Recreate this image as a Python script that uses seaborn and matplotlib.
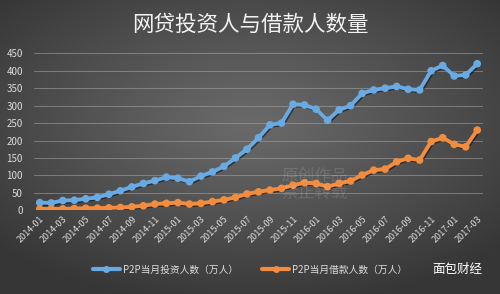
import numpy as np
import pandas as pd
import matplotlib
matplotlib.use("Agg")
import matplotlib.pyplot as plt
import matplotlib.patheffects as pe
from matplotlib.lines import Line2D
import seaborn as sns

months = [f"{y}-{m:02d}" for y in (2014, 2015, 2016, 2017) for m in range(1, 13)][:39]
investors = [22, 21, 28, 29, 33, 37, 46, 56, 67, 77, 85, 95, 92, 82, 98, 110, 126, 150, 175, 208,
             245, 250, 304, 302, 290, 258, 288, 300, 335, 345, 350, 355, 347, 345, 400, 415, 385, 388, 420]
borrowers = [4, 4, 4, 5, 6, 6, 7, 8, 10, 13, 18, 20, 22, 18, 20, 25, 30, 37, 47, 53,
             58, 63, 72, 79, 77, 68, 77, 84, 101, 115, 118, 139, 149, 144, 197, 208, 189, 182, 230]
series_names = ["P2P当月投资人数（万人）", "P2P当月借款人数（万人）"]
yticks = [0, 50, 100, 150, 200, 250, 300, 350, 400, 450]
title = "网贷投资人与借款人数量"

df = pd.DataFrame({
    "idx": list(range(len(months))) * 2,
    "value": investors + borrowers,
    "series": [series_names[0]] * len(months) + [series_names[1]] * len(months),
})

sns.set_theme(style="dark")
plt.rcParams["font.family"] = ["Noto Sans CJK SC", "DejaVu Sans"]

fig = plt.figure(figsize=(5.0, 2.94), dpi=100)

# background radial gradient
bg = fig.add_axes([0, 0, 1, 1], zorder=-10)
yy, xx = np.mgrid[0:1:294j, 0:1:500j]
r = np.sqrt(((xx - 0.5) * 1.4) ** 2 + ((yy - 0.42) * 1.5) ** 2)
r = np.clip(r / 0.95, 0, 1) ** 1.1
c_center = np.array([0x6a, 0x6a, 0x6a]) / 255
c_edge = np.array([0x36, 0x36, 0x36]) / 255
img = c_center[None, None, :] * (1 - r[..., None]) + c_edge[None, None, :] * r[..., None]
bg.imshow(img, aspect="auto", extent=[0, 1, 0, 1], origin="upper")
bg.set_axis_off()

ax = fig.add_axes([0.068, 0.2847, 0.898, 0.534])
ax.set_facecolor("none")
palette = {series_names[0]: "#6aaae2", series_names[1]: "#f28c3e"}
sns.lineplot(data=df, x="idx", y="value", hue="series", palette=palette, marker="o",
             markersize=5.5, linewidth=2.8, markeredgewidth=0, ax=ax, legend=False, zorder=5)
for ln in ax.lines:
    ln.set_path_effects([pe.SimpleLineShadow(offset=(0.8, -0.8), alpha=0.5, shadow_color="black"), pe.Normal()])

ax.set_xlim(-0.5, len(months) - 0.5)
ax.set_ylim(0, 450)
ax.set_yticks(yticks)
ax.set_yticklabels([str(v) for v in yticks], color="#dcdcdc", fontsize=7)
ax.set_xticks(range(0, len(months), 2))
ax.set_xticklabels(months[::2], rotation=45, ha="right", rotation_mode="anchor",
                   color="#dcdcdc", fontsize=6.5)
ax.tick_params(axis="both", length=0, pad=3)
ax.tick_params(axis="y", pad=8)
ax.set_xlabel("")
ax.set_ylabel("")
for s in ax.spines.values():
    s.set_visible(False)
ax.grid(axis="y", color="#a8a8a8", linewidth=0.7, alpha=0.55)
ax.grid(axis="x", visible=False)

# watermark
fig.text(0.63, 0.37, "原创作品\n禁止转载", color="white", alpha=0.13, fontsize=12,
         ha="center", va="center", linespacing=1.0)

fig.text(0.5, 0.915, title, color="#f2f2f2", fontsize=15.5, ha="center", va="center")

handles = [Line2D([], [], color=palette[n], marker="o", markersize=4, linewidth=3) for n in series_names]
fig.legend(handles, series_names, loc="center", bbox_to_anchor=(0.5, 0.083), ncol=2,
           frameon=False, fontsize=7, labelcolor="#dcdcdc", handlelength=2.8,
           columnspacing=2.5, handletextpad=0.3)
fig.text(0.965, 0.083, "面包财经", color="white", fontsize=9, ha="right", va="center")

fig.savefig("out.png", dpi=100)
